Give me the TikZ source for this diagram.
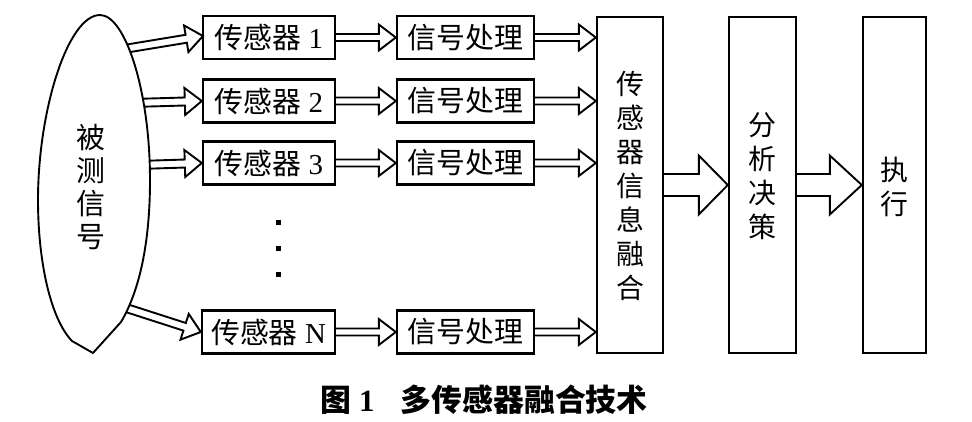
\documentclass[tikz,border=0pt]{standalone}
\usepackage{fontspec}
\setmainfont{Liberation Serif}
\newfontfamily\cjk{Noto Sans CJK SC}
\usetikzlibrary{calc}
\tikzset{
  box/.style={draw, line width=2.4bp, minimum height=43bp, inner sep=0pt, fill=white,
              font=\fontsize{29}{34}\selectfont},
  tallbox/.style={draw, line width=2.4bp, minimum height=336bp, inner sep=0pt, fill=white},
  arr/.style={line width=1.9bp, line join=miter, line cap=butt},
  vtext/.style={align=center, inner sep=0pt, font=\fontsize{28}{34}\selectfont\cjk},
  outline/.style={line width=1.9bp, fill=white, line join=round},
}
% #1 start, #2 tip, #3 shaft half width, #4 head half width, #5 head length
\newcommand\blockarr[5]{%
  \path ($(#2)!#5!(#1)$) coordinate (hb);
  \draw[arr] ($(#1)!#3!90:(#2)$) -- ($(hb)!#3!90:(#2)$) -- ($(hb)!#4!90:(#2)$) -- (#2)
    -- ($(hb)!#4!-90:(#2)$) -- ($(hb)!#3!-90:(#2)$) -- ($(#1)!#3!-90:(#2)$);
}
\begin{document}
\begin{tikzpicture}[x=1bp,y=-1bp]
\useasboundingbox (0,0) rectangle (972,421);

% sensor boxes
\node[box, minimum width=132bp] (s1) at (269,37.5) {{\cjk 传感器} 1};
\node[box, minimum width=132bp] (s2) at (269,101) {{\cjk 传感器} 2};
\node[box, minimum width=132bp] (s3) at (269,163) {{\cjk 传感器} 3};
\node[box, minimum width=133bp] (s4) at (268.5,332) {{\cjk 传感器} N};

% signal processing boxes
\node[box, minimum width=137bp] (p1) at (465.5,37.5) {\cjk 信号处理};
\node[box, minimum width=137bp] (p2) at (465.5,101) {\cjk 信号处理};
\node[box, minimum width=137bp] (p3) at (465.5,163) {\cjk 信号处理};
\node[box, minimum width=137bp] (p4) at (465.5,332) {\cjk 信号处理};

% tall boxes
\node[tallbox, minimum width=66bp] (fus) at (630,185) {};
\node[vtext] at (630,186) {传\\感\\器\\信\\息\\融\\合};
\node[tallbox, minimum width=67bp] (dec) at (762.5,185) {};
\node[vtext] at (762.5,176) {分\\析\\决\\策};
\node[tallbox, minimum width=63bp] (exe) at (894.5,185) {};
\node[vtext] at (894.5,187) {执\\行};

% arrows sensor -> processing -> fusion
\foreach \i in {1,2,3,4}{
  \blockarr{s\i.east}{p\i.west}{3.5bp}{13bp}{17bp}
  \path (p\i.east) coordinate (pe) (fus.west |- p\i.east) coordinate (fe);
  \blockarr{pe}{fe}{3.5bp}{13bp}{17bp}
}

% big arrows
\blockarr{fus.east}{dec.west}{11bp}{29.5bp}{29bp}
\blockarr{dec.east}{exe.west}{11bp}{29.5bp}{32bp}

% arrows from the signal shape
\coordinate (e1) at (118,50);
\coordinate (e2) at (132,103);
\coordinate (e3) at (138,165);
\coordinate (e4) at (120,306);
\coordinate (t1) at (203,36);
\blockarr{e1}{t1}{4bp}{13.5bp}{17bp}
\blockarr{e2}{s2.west}{4bp}{13.5bp}{17bp}
\blockarr{e3}{s3.west}{4bp}{13.5bp}{17bp}
\blockarr{e4}{s4.west}{4bp}{13.5bp}{17bp}

% measured signal outline
\draw[outline] (100,15) .. controls (125,15) and (150,90) .. (150,180)
  .. controls (150,250) and (137,295) .. (121,322) -- (93,353) -- (72,341)
  .. controls (50,318) and (38,260) .. (38,200)
  .. controls (38,110) and (68,15) .. (100,15) -- cycle;
\node[vtext, font=\fontsize{29}{33}\selectfont\cjk] (sig) at (91,187) {被\\测\\信\\号};

% dots
\fill (276,220) rectangle +(4.5,4.5);
\fill (276,246) rectangle +(4.5,4.5);
\fill (276,272) rectangle +(4.5,4.5);

% caption
\node[inner sep=0pt, font=\fontsize{31}{34}\selectfont\bfseries] (cap) at (484,400)
  {{\cjk 图}\hspace{8bp}1\hspace{26bp}{\cjk 多传感器融合技术}};
\end{tikzpicture}
\end{document}
